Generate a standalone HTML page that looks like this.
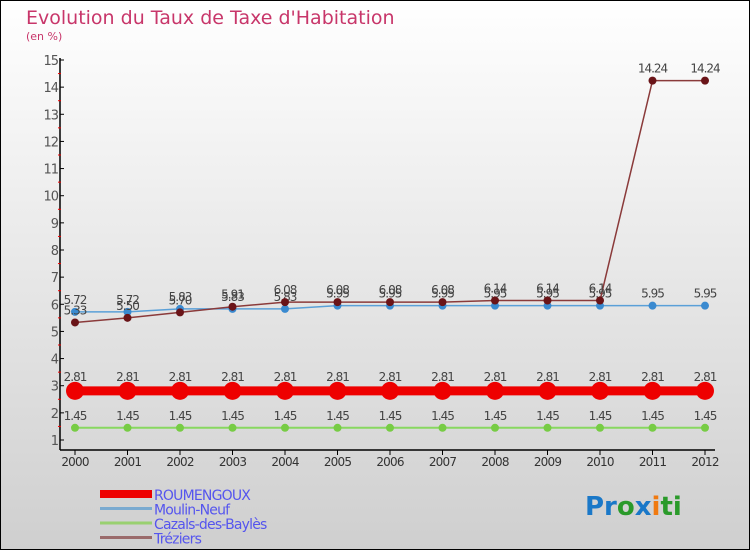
<!DOCTYPE html>
<html><head><meta charset="utf-8"><style>
html,body{margin:0;padding:0}
body{width:750px;height:550px;overflow:hidden}
svg text{font-family:"DejaVu Sans","Liberation Sans",sans-serif}
</style></head><body>
<svg id="chart" width="750" height="550" xmlns="http://www.w3.org/2000/svg">
<defs><linearGradient id="bg" x1="0" y1="0" x2="0" y2="1"><stop offset="0" stop-color="#ffffff"/><stop offset="1" stop-color="#cfcfcf"/></linearGradient></defs>
<rect x="0.5" y="0.5" width="749" height="549" fill="url(#bg)" stroke="#000"/>
<text x="26" y="24" font-size="19" fill="#c8366a">Evolution du Taux de Taxe d'Habitation</text>
<text x="26" y="40" font-size="11" fill="#c8366a">(en %)</text>
<g id="axes"></g><g id="series"></g><g id="legend"></g>
<text x="585" y="515" font-size="26" font-weight="bold"><tspan fill="#1a78c8">Pr</tspan><tspan fill="#2a9a2a">o</tspan><tspan fill="#1a78c8">x</tspan><tspan fill="#f07a10">i</tspan><tspan fill="#2a9a2a">ti</tspan></text>
</svg>
<script>
const years=[2000,2001,2002,2003,2004,2005,2006,2007,2008,2009,2010,2011,2012];
const yTicks=[1,2,3,4,5,6,7,8,9,10,11,12,13,14,15];
const seriesNames=["ROUMENGOUX","Moulin-Neuf","Cazals-des-Baylès","Tréziers"];
const roumengoux=[2.81,2.81,2.81,2.81,2.81,2.81,2.81,2.81,2.81,2.81,2.81,2.81,2.81];
const moulinNeuf=[5.72,5.72,5.83,5.83,5.83,5.95,5.95,5.95,5.95,5.95,5.95,5.95,5.95];
const cazals=[1.45,1.45,1.45,1.45,1.45,1.45,1.45,1.45,1.45,1.45,1.45,1.45,1.45];
const treziers=[5.33,5.5,5.7,5.91,6.08,6.08,6.08,6.08,6.14,6.14,6.14,14.24,14.24];
const NS="http://www.w3.org/2000/svg";
const X=i=>75+i*52.5;
const Y=v=>440-(v-1)*27.143;
function mk(tag,attrs,parent){const e=document.createElementNS(NS,tag);for(const k in attrs)e.setAttribute(k,attrs[k]);parent.appendChild(e);return e;}
const axes=document.getElementById('axes');
let a=mk('line',{x1:60,y1:58,x2:60,y2:450,stroke:'#000','stroke-width':1.5},axes);


a=mk('line',{x1:60,y1:450,x2:715,y2:450,stroke:'#000','stroke-width':1.5},axes);


yTicks.forEach(v=>{
 mk('line',{x1:60,y1:Y(v),x2:64,y2:Y(v),stroke:'#000'},axes);
 if(v<15){mk('line',{x1:58,y1:Y(v+0.5),x2:61,y2:Y(v+0.5),stroke:'#e00'},axes);}
 const t=mk('text',{x:58,y:Y(v)+5,'font-size':13,'text-anchor':'end',fill:'#555','letter-spacing':'-1'},axes);
 t.textContent=v;
 
 
});
years.forEach((y,i)=>{
 mk('line',{x1:X(i),y1:450,x2:X(i),y2:455,stroke:'#000'},axes);
 const t=mk('text',{x:X(i),y:466,'font-size':12,'text-anchor':'middle',fill:'#333','letter-spacing':'-0.8'},axes);
 t.textContent=y;
 
 
});
const sg=document.getElementById('series');
function draw(vals,color,lw,r,name,dot,off){
 const g=mk('g',{},sg);
 
 
 mk('polyline',{points:vals.map((v,i)=>X(i)+','+Y(v)).join(' '),fill:'none',stroke:color,'stroke-width':lw},g);
 vals.forEach((v,i)=>{
  const c=mk('circle',{cx:X(i),cy:Y(v),r:r,fill:dot},g);
  
  
  const t=mk('text',{x:X(i),y:Y(v)-off,'font-size':12,'text-anchor':'middle',fill:'#444','letter-spacing':'-1'},g);
  t.textContent=v.toFixed(2);
  
  
 });
}
draw(cazals,'#88d860',2,4,'cazals','#77cc44',8);
draw(moulinNeuf,'#5aa0d8',1.5,4,'moulin-neuf','#3a8ad0',8);
draw(treziers,'#8a3a3a',1.5,4,'treziers','#6a1418',8);
draw(roumengoux,'#ee0000',9,9,'roumengoux','#ee0000',10);
const lg=document.getElementById('legend');
const lc=[['#ee0000',8],['#7aaad0',3],['#99d070',3],['#9a6a6a',3]];
seriesNames.forEach((n,i)=>{
 const y=494+i*14.5;
 const l=mk('line',{x1:100,y1:y,x2:152,y2:y,stroke:lc[i][0],'stroke-width':lc[i][1]},lg);
 
 
 const t=mk('text',{x:154,y:y+6,'font-size':14,fill:'#5555ee','letter-spacing':'-0.8'},lg);
 t.textContent=n;
 
 
});
</script>
</body></html>
